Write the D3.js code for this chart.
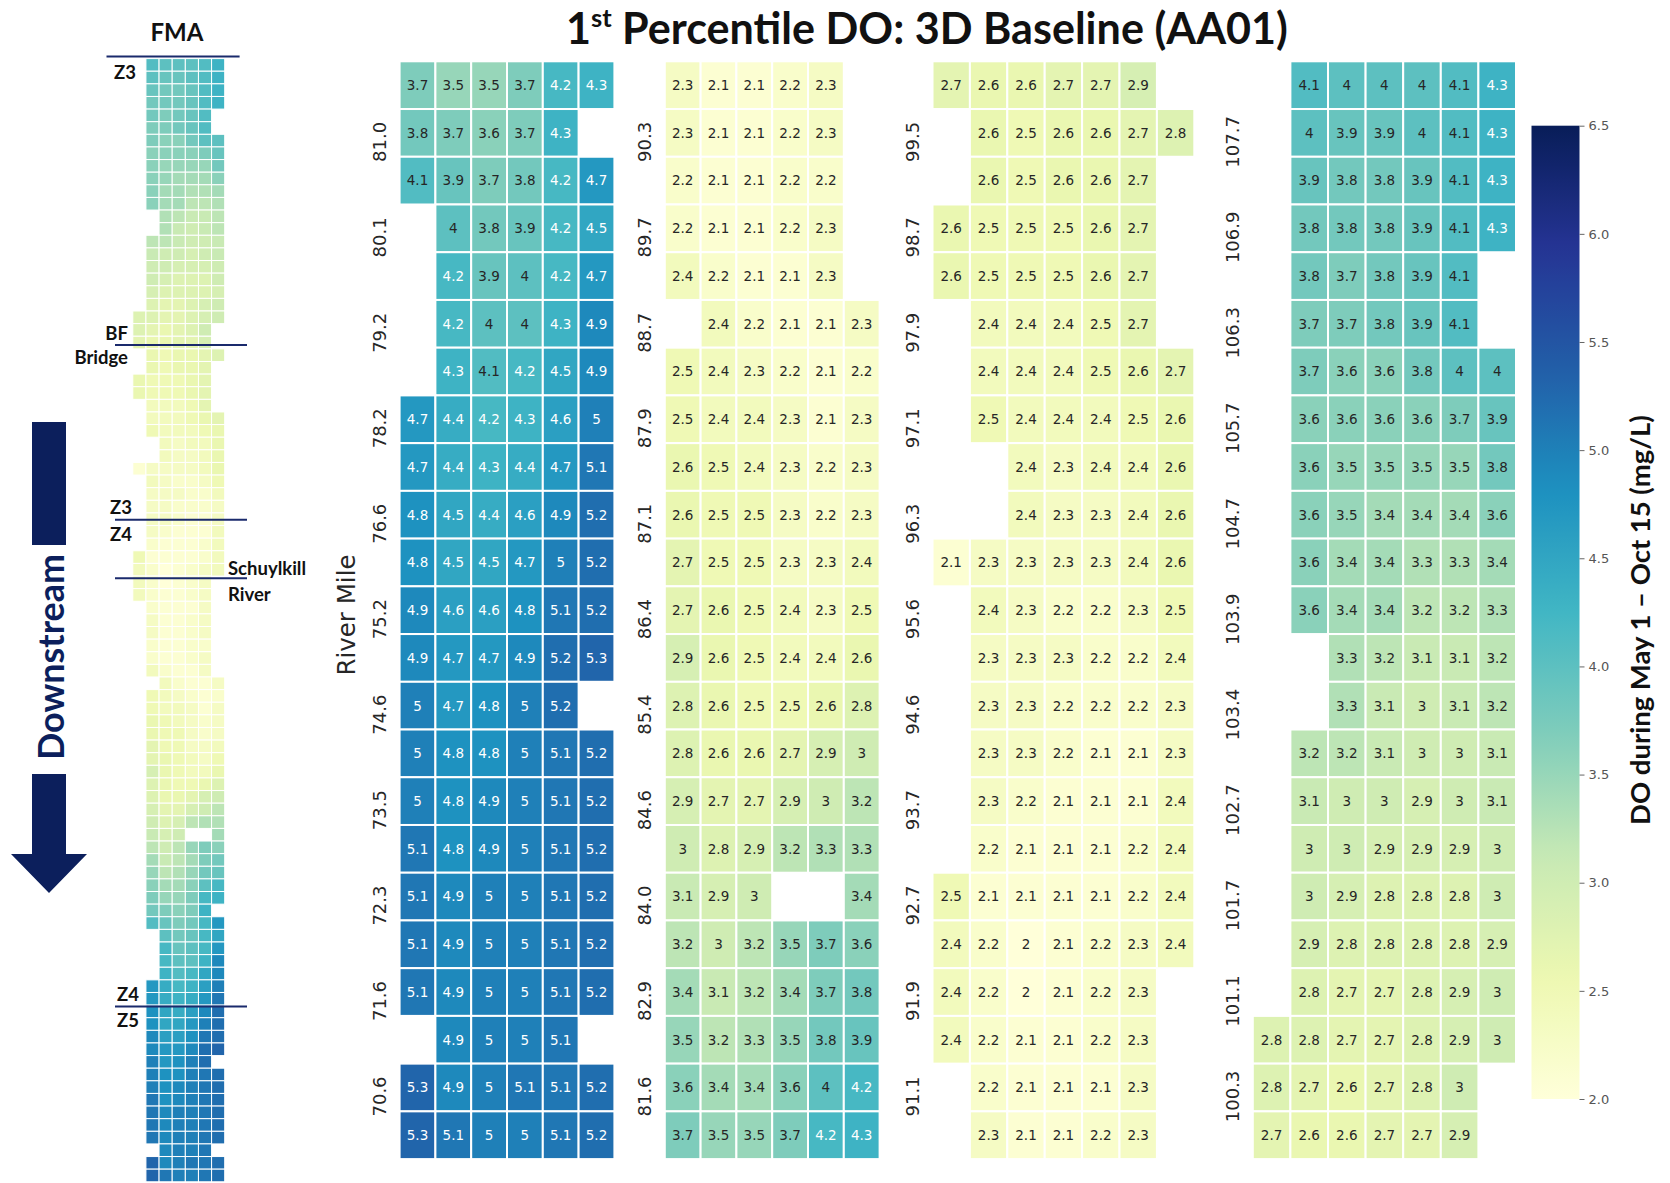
<!DOCTYPE html>
<html>
<head>
<meta charset="utf-8">
<script src="https://cdn.jsdelivr.net/npm/d3@7"></script>
<style>
  body { margin: 0; background: #fff; }
  svg { display: block; }
</style>
</head>
<body>
<svg id="chart" width="1670" height="1183"></svg>
<script>
// ---- Data: 1st percentile DO (mg/L), rows run upstream (top) to downstream (bottom) ----

// River miles 100.3 – 107.7 (7 cross-channel cells)
const milesRM100 = ["107.7","106.9","106.3","105.7","104.7","103.9","103.4","102.7","101.7","101.1","100.3"];
const doRM100 = [
  [null,4.1,4,4,4,4.1,4.3],
  [null,4,3.9,3.9,4,4.1,4.3],
  [null,3.9,3.8,3.8,3.9,4.1,4.3],
  [null,3.8,3.8,3.8,3.9,4.1,4.3],
  [null,3.8,3.7,3.8,3.9,4.1,null],
  [null,3.7,3.7,3.8,3.9,4.1,null],
  [null,3.7,3.6,3.6,3.8,4,4],
  [null,3.6,3.6,3.6,3.6,3.7,3.9],
  [null,3.6,3.5,3.5,3.5,3.5,3.8],
  [null,3.6,3.5,3.4,3.4,3.4,3.6],
  [null,3.6,3.4,3.4,3.3,3.3,3.4],
  [null,3.6,3.4,3.4,3.2,3.2,3.3],
  [null,null,3.3,3.2,3.1,3.1,3.2],
  [null,null,3.3,3.1,3,3.1,3.2],
  [null,3.2,3.2,3.1,3,3,3.1],
  [null,3.1,3,3,2.9,3,3.1],
  [null,3,3,2.9,2.9,2.9,3],
  [null,3,2.9,2.8,2.8,2.8,3],
  [null,2.9,2.8,2.8,2.8,2.8,2.9],
  [null,2.8,2.7,2.7,2.8,2.9,3],
  [2.8,2.8,2.7,2.7,2.8,2.9,3],
  [2.8,2.7,2.6,2.7,2.8,3,null],
  [2.7,2.6,2.6,2.7,2.7,2.9,null]
];

// River miles 91.1 – 99.5
const milesRM91 = ["99.5","98.7","97.9","97.1","96.3","95.6","94.6","93.7","92.7","91.9","91.1"];
const doRM91 = [
  [2.7,2.6,2.6,2.7,2.7,2.9,null],
  [null,2.6,2.5,2.6,2.6,2.7,2.8],
  [null,2.6,2.5,2.6,2.6,2.7,null],
  [2.6,2.5,2.5,2.5,2.6,2.7,null],
  [2.6,2.5,2.5,2.5,2.6,2.7,null],
  [null,2.4,2.4,2.4,2.5,2.7,null],
  [null,2.4,2.4,2.4,2.5,2.6,2.7],
  [null,2.5,2.4,2.4,2.4,2.5,2.6],
  [null,null,2.4,2.3,2.4,2.4,2.6],
  [null,null,2.4,2.3,2.3,2.4,2.6],
  [2.1,2.3,2.3,2.3,2.3,2.4,2.6],
  [null,2.4,2.3,2.2,2.2,2.3,2.5],
  [null,2.3,2.3,2.3,2.2,2.2,2.4],
  [null,2.3,2.3,2.2,2.2,2.2,2.3],
  [null,2.3,2.3,2.2,2.1,2.1,2.3],
  [null,2.3,2.2,2.1,2.1,2.1,2.4],
  [null,2.2,2.1,2.1,2.1,2.2,2.4],
  [2.5,2.1,2.1,2.1,2.1,2.2,2.4],
  [2.4,2.2,2,2.1,2.2,2.3,2.4],
  [2.4,2.2,2,2.1,2.2,2.3,null],
  [2.4,2.2,2.1,2.1,2.2,2.3,null],
  [null,2.2,2.1,2.1,2.1,2.3,null],
  [null,2.3,2.1,2.1,2.2,2.3,null]
];

// River miles 81.6 – 90.3 (6 cells)
const milesRM81 = ["90.3","89.7","88.7","87.9","87.1","86.4","85.4","84.6","84.0","82.9","81.6"];
const doRM81 = [
  [2.3,2.1,2.1,2.2,2.3,null],
  [2.3,2.1,2.1,2.2,2.3,null],
  [2.2,2.1,2.1,2.2,2.2,null],
  [2.2,2.1,2.1,2.2,2.3,null],
  [2.4,2.2,2.1,2.1,2.3,null],
  [null,2.4,2.2,2.1,2.1,2.3],
  [2.5,2.4,2.3,2.2,2.1,2.2],
  [2.5,2.4,2.4,2.3,2.1,2.3],
  [2.6,2.5,2.4,2.3,2.2,2.3],
  [2.6,2.5,2.5,2.3,2.2,2.3],
  [2.7,2.5,2.5,2.3,2.3,2.4],
  [2.7,2.6,2.5,2.4,2.3,2.5],
  [2.9,2.6,2.5,2.4,2.4,2.6],
  [2.8,2.6,2.5,2.5,2.6,2.8],
  [2.8,2.6,2.6,2.7,2.9,3],
  [2.9,2.7,2.7,2.9,3,3.2],
  [3,2.8,2.9,3.2,3.3,3.3],
  [3.1,2.9,3,null,null,3.4],
  [3.2,3,3.2,3.5,3.7,3.6],
  [3.4,3.1,3.2,3.4,3.7,3.8],
  [3.5,3.2,3.3,3.5,3.8,3.9],
  [3.6,3.4,3.4,3.6,4,4.2],
  [3.7,3.5,3.5,3.7,4.2,4.3]
];

// River miles 70.6 – 81.0 (6 cells)
const milesRM70 = ["81.0","80.1","79.2","78.2","76.6","75.2","74.6","73.5","72.3","71.6","70.6"];
const doRM70 = [
  [3.7,3.5,3.5,3.7,4.2,4.3],
  [3.8,3.7,3.6,3.7,4.3,null],
  [4.1,3.9,3.7,3.8,4.2,4.7],
  [null,4,3.8,3.9,4.2,4.5],
  [null,4.2,3.9,4,4.2,4.7],
  [null,4.2,4,4,4.3,4.9],
  [null,4.3,4.1,4.2,4.5,4.9],
  [4.7,4.4,4.2,4.3,4.6,5],
  [4.7,4.4,4.3,4.4,4.7,5.1],
  [4.8,4.5,4.4,4.6,4.9,5.2],
  [4.8,4.5,4.5,4.7,5,5.2],
  [4.9,4.6,4.6,4.8,5.1,5.2],
  [4.9,4.7,4.7,4.9,5.2,5.3],
  [5,4.7,4.8,5,5.2,null],
  [5,4.8,4.8,5,5.1,5.2],
  [5,4.8,4.9,5,5.1,5.2],
  [5.1,4.8,4.9,5,5.1,5.2],
  [5.1,4.9,5,5,5.1,5.2],
  [5.1,4.9,5,5,5.1,5.2],
  [5.1,4.9,5,5,5.1,5.2],
  [null,4.9,5,5,5.1,null],
  [5.3,4.9,5,5.1,5.1,5.2],
  [5.3,5.1,5,5,5.1,5.2]
];

// Colour bar range and ticks
const colorDomain = [2.0, 6.5];
const colorTicks = [2.0, 2.5, 3.0, 3.5, 4.0, 4.5, 5.0, 5.5, 6.0, 6.5];
// YlGnBu anchor colours
const ylgnbu = ["#ffffd9","#edf8b1","#c7e9b4","#7fcdbb","#41b6c4","#1d91c0","#225ea8","#253494","#081d58"];

// ---- Layout ----
const rowTop = 61.3, rowH = 47.73, nRows = 23;
const panelDefs = [
  { values: doRM70,  miles: milesRM70,  x0: 399.6,  cw: 35.8 },
  { values: doRM81,  miles: milesRM81,  x0: 664.8,  cw: 35.8 },
  { values: doRM91,  miles: milesRM91,  x0: 932.5,  cw: 37.4 },
  { values: doRM100, miles: milesRM100, x0: 1252.8, cw: 37.6 }
];
const TICK_FONT = "'DejaVu Sans', sans-serif";
const BOLD_FONT = "Lato, 'Open Sans', sans-serif";
const NAVY = "#0c1f5c";

const svg = d3.select("#chart");

const color = d3.scaleLinear()
  .domain(d3.range(ylgnbu.length).map(i => colorDomain[0] + i * (colorDomain[1] - colorDomain[0]) / (ylgnbu.length - 1)))
  .range(ylgnbu)
  .interpolate(d3.interpolateRgb)
  .clamp(true);

function relLum(c) {
  const rgb = d3.rgb(c);
  const f = v => { v /= 255; return v <= 0.03928 ? v / 12.92 : Math.pow((v + 0.055) / 1.055, 2.4); };
  return 0.2126 * f(rgb.r) + 0.7152 * f(rgb.g) + 0.0722 * f(rgb.b);
}
const fmt = d3.format(".2~g");

// Resize a text so that it spans the target length
function fitFont(textSel, baseSize, target) {
  const w = textSel.node().getComputedTextLength();
  const size = baseSize * target / w;
  textSel.style("font-size", size + "px");
  return size;
}

// ---- Heatmap panels ----
const yScale = d3.scaleBand().domain(d3.range(nRows)).range([rowTop, rowTop + nRows * rowH]).padding(0);

panelDefs.forEach(p => {
  const ncol = p.values[0].length;
  const x = d3.scaleBand().domain(d3.range(ncol)).range([p.x0, p.x0 + ncol * p.cw]).padding(0);
  const cells = [];
  p.values.forEach((row, r) => row.forEach((v, c) => { if (v !== null) cells.push({ r, c, v }); }));

  const g = svg.append("g");
  g.selectAll("rect").data(cells).join("rect")
    .attr("x", d => x(d.c)).attr("y", d => yScale(d.r))
    .attr("width", x.bandwidth()).attr("height", yScale.bandwidth())
    .attr("fill", d => color(d.v))
    .attr("stroke", "#fff").attr("stroke-width", 2);

  g.selectAll("text").data(cells).join("text")
    .attr("x", d => x(d.c) + x.bandwidth() / 2)
    .attr("y", d => yScale(d.r) + yScale.bandwidth() / 2)
    .attr("dy", "0.36em")
    .attr("text-anchor", "middle")
    .style("font-family", TICK_FONT).style("font-size", "13.5px")
    .attr("fill", d => relLum(color(d.v)) > 0.408 ? "#262626" : "#ffffff")
    .text(d => fmt(d.v));

  // River-mile axis (every second row), rotated labels
  const tickRows = p.miles.map((m, i) => 1 + 2 * i);
  const axis = d3.axisLeft(yScale).tickValues(tickRows)
    .tickFormat(r => p.miles[(r - 1) / 2]).tickSize(0);
  const ag = svg.append("g").attr("transform", `translate(${p.x0},0)`).call(axis);
  ag.select(".domain").remove();
  ag.selectAll("text")
    .attr("transform", "rotate(-90)")
    .attr("x", -9).attr("y", -14).attr("dy", 0)
    .attr("text-anchor", "middle")
    .style("font-family", TICK_FONT).style("font-size", "18px")
    .attr("fill", "#262626");
});

// Axis title
svg.append("text")
  .attr("transform", "translate(355,615) rotate(-90)")
  .attr("text-anchor", "middle")
  .style("font-family", TICK_FONT).style("font-size", "24.5px")
  .attr("fill", "#262626")
  .text("River Mile");

// ---- Colour bar ----
const cbX = 1531.5, cbW = 48, cbTop = 125.7, cbBot = 1099;
const cbScale = d3.scaleLinear().domain(colorDomain).range([cbBot, cbTop]);
const grad = svg.append("defs").append("linearGradient")
  .attr("id", "cbGrad").attr("x1", 0).attr("y1", 1).attr("x2", 0).attr("y2", 0);
d3.range(0, 1.0001, 0.02).forEach(t => {
  const v = colorDomain[0] + t * (colorDomain[1] - colorDomain[0]);
  grad.append("stop").attr("offset", t).attr("stop-color", color(v));
});
svg.append("rect").attr("x", cbX).attr("y", cbTop).attr("width", cbW).attr("height", cbBot - cbTop)
  .attr("fill", "url(#cbGrad)");
const cbAxis = svg.append("g").attr("transform", `translate(${cbX + cbW},0)`)
  .call(d3.axisRight(cbScale).tickValues(colorTicks).tickFormat(d3.format(".1f")).tickSize(5).tickPadding(4));
cbAxis.select(".domain").remove();
cbAxis.selectAll("line").attr("stroke", "#666");
cbAxis.selectAll("text").style("font-family", TICK_FONT).style("font-size", "13px").attr("fill", "#555");

const cbLabel = svg.append("text")
  .attr("transform", "translate(1650,620) rotate(-90)")
  .attr("text-anchor", "middle")
  .style("font-family", BOLD_FONT).style("font-weight", 700).style("font-size", "24px")
  .attr("fill", "#111")
  .text("DO during May 1 \u2013 Oct 15 (mg/L)");
fitFont(cbLabel, 24, 410);

// ---- Title: "1", superscript "st", then the rest, laid out side by side ----
const titleCx = 927, titleW = 722;
const titleParts = [
  { t: "1", size: 44, rise: 0 },
  { t: "st", size: 26, rise: 17 },
  { t: "Percentile DO: 3D Baseline (AA01)", size: 44, rise: 0, gapBefore: 0.24 }
];
const titleTexts = titleParts.map(p => svg.append("text")
  .style("font-family", BOLD_FONT).style("font-weight", 700).style("font-size", p.size + "px")
  .attr("fill", "#111").text(p.t));
{
  const widths = titleTexts.map(s => s.node().getComputedTextLength());
  const gaps = titleParts.map(p => (p.gapBefore || 0) * p.size);
  const total = d3.sum(widths) + d3.sum(gaps);
  const k = titleW / total;
  // keep the full line box (ascent ~0.99em) inside the top edge
  const baseY = Math.max(41, 0.99 * 44 * k + 1);
  let cx = titleCx - titleW / 2;
  titleTexts.forEach((s, i) => {
    cx += gaps[i] * k;
    s.attr("x", cx)
     .attr("y", baseY - titleParts[i].rise * k)
     .style("font-size", (titleParts[i].size * k) + "px");
    cx += widths[i] * k;
  });
}

// ---- Overview strip of the whole reach ----
const miniRows = [];
doRM100.forEach(r => miniRows.push(r.map((v, c) => ({ v, c }))));
doRM91.slice(1).forEach(r => miniRows.push(r.map((v, c) => ({ v, c }))));
doRM81.slice(1).forEach(r => miniRows.push(r.map((v, c) => ({ v, c: c + 1 }))));
doRM70.slice(1).forEach(r => miniRows.push(r.map((v, c) => ({ v, c: c + 1 }))));
const miniCells = [];
miniRows.forEach((row, r) => row.forEach(d => { if (d.v !== null) miniCells.push({ r, c: d.c, v: d.v }); }));

const mx = d3.scaleBand().domain(d3.range(7)).range([132.8, 132.8 + 7 * 13.13]);
const my = d3.scaleBand().domain(d3.range(miniRows.length)).range([58.6, 58.6 + miniRows.length * 12.62]);
svg.append("g").selectAll("rect").data(miniCells).join("rect")
  .attr("x", d => mx(d.c)).attr("y", d => my(d.r))
  .attr("width", mx.bandwidth()).attr("height", my.bandwidth())
  .attr("fill", d => color(d.v))
  .attr("stroke", "#fff").attr("stroke-width", 1);

// FMA heading
svg.append("text").attr("x", 177).attr("y", 41).attr("text-anchor", "middle")
  .style("font-family", BOLD_FONT).style("font-weight", 700).style("font-size", "24px")
  .attr("fill", "#111").text("FMA");

// Zone / landmark markers
const markerLines = [
  { y: 56.4, x1: 106.5, x2: 239.6 },
  { y: 345, x1: 115, x2: 247 },
  { y: 519.7, x1: 115, x2: 247 },
  { y: 578.3, x1: 115, x2: 247 },
  { y: 1006.4, x1: 115, x2: 247 }
];
svg.append("g").selectAll("line").data(markerLines).join("line")
  .attr("x1", d => d.x1).attr("x2", d => d.x2).attr("y1", d => d.y).attr("y2", d => d.y)
  .attr("stroke", "#1a2a6c").attr("stroke-width", 2);

const markerLabels = [
  { t: "Z3", x: 136, y: 79, a: "end" },
  { t: "BF", x: 128, y: 340, a: "end" },
  { t: "Bridge", x: 128, y: 364, a: "end" },
  { t: "Z3", x: 132, y: 514, a: "end" },
  { t: "Z4", x: 132, y: 541, a: "end" },
  { t: "Schuylkill", x: 228, y: 575, a: "start" },
  { t: "River", x: 228, y: 601, a: "start" },
  { t: "Z4", x: 139, y: 1001, a: "end" },
  { t: "Z5", x: 139, y: 1027, a: "end" }
];
svg.append("g").selectAll("text").data(markerLabels).join("text")
  .attr("x", d => d.x).attr("y", d => d.y).attr("text-anchor", d => d.a)
  .style("font-family", BOLD_FONT).style("font-weight", 700).style("font-size", "18.5px")
  .attr("fill", "#111").text(d => d.t);

// Downstream arrow
svg.append("rect").attr("x", 32).attr("y", 422).attr("width", 34).attr("height", 123).attr("fill", NAVY);
svg.append("path")
  .attr("d", "M32,774 L66,774 L66,854 L87,854 L49,893 L11,854 L32,854 Z")
  .attr("fill", NAVY);
const ds = svg.append("text")
  .attr("transform", "translate(64,657) rotate(-90)")
  .attr("text-anchor", "middle")
  .style("font-family", BOLD_FONT).style("font-weight", 700).style("font-size", "38px")
  .attr("fill", NAVY).text("Downstream");
fitFont(ds, 38, 206);
</script>
</body>
</html>
